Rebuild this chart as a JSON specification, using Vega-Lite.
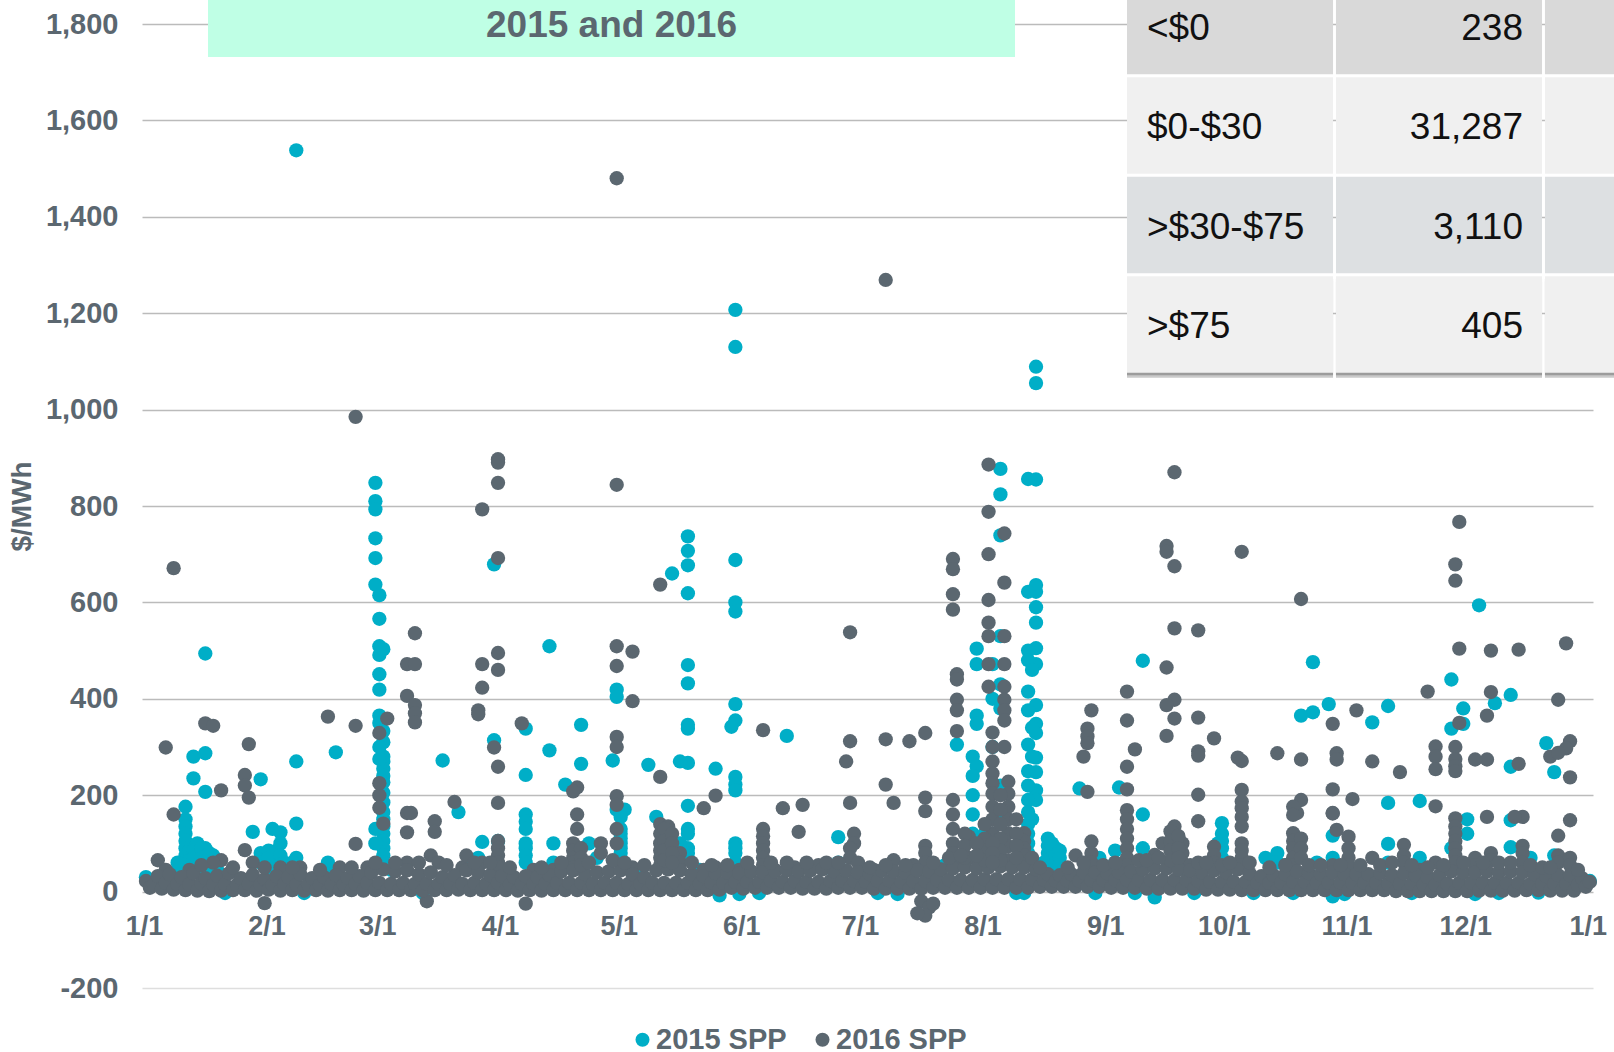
{"$schema":"https://vega.github.io/schema/vega-lite/v6.json","autosize":{"type":"none"},"padding":{"left":142,"top":24,"right":21,"bottom":64},"width":1451,"height":964,"background":"white","config":{"view":{"stroke":null},"font":"Liberation Sans"},
"datasets":{
"table":[{"row":"<$0","col":"Range","text":"<$0"},{"row":"<$0","col":"Hours","text":"238"},{"row":"<$0","col":"Share","text":""},{"row":"$0-$30","col":"Range","text":"$0-$30"},{"row":"$0-$30","col":"Hours","text":"31,287"},{"row":"$0-$30","col":"Share","text":""},{"row":">$30-$75","col":"Range","text":">$30-$75"},{"row":">$30-$75","col":"Hours","text":"3,110"},{"row":">$30-$75","col":"Share","text":""},{"row":">$75","col":"Range","text":">$75"},{"row":">$75","col":"Hours","text":"405"},{"row":">$75","col":"Share","text":""}],
"spp2015":[{"day":38,"price":1538},{"day":149,"price":1207},{"day":149,"price":1130},{"day":225,"price":1089},{"day":225,"price":1055},{"day":58,"price":848},{"day":58,"price":810},{"day":58,"price":793},{"day":58,"price":733},{"day":58,"price":692},{"day":58,"price":637},{"day":59,"price":615},{"day":59,"price":566},{"day":59,"price":509},{"day":59,"price":491},{"day":59,"price":451},{"day":59,"price":419},{"day":59,"price":365},{"day":60,"price":503},{"day":60,"price":333},{"day":60,"price":310},{"day":60,"price":280},{"day":60,"price":270},{"day":60,"price":255},{"day":60,"price":240},{"day":60,"price":227},{"day":60,"price":205},{"day":60,"price":185},{"day":60,"price":165},{"day":60,"price":150},{"day":60,"price":135},{"day":60,"price":120},{"day":60,"price":105},{"day":60,"price":90},{"day":60,"price":75},{"day":60,"price":60},{"day":59,"price":350},{"day":59,"price":300},{"day":59,"price":275},{"day":58,"price":130},{"day":58,"price":100},{"day":15,"price":494},{"day":12,"price":280},{"day":15,"price":287},{"day":12,"price":235},{"day":15,"price":207},{"day":10,"price":176},{"day":10,"price":150},{"day":10,"price":135},{"day":10,"price":120},{"day":10,"price":105},{"day":10,"price":90},{"day":10,"price":75},{"day":10,"price":60},{"day":13,"price":100},{"day":13,"price":85},{"day":13,"price":70},{"day":13,"price":55},{"day":15,"price":90},{"day":15,"price":75},{"day":15,"price":60},{"day":17,"price":75},{"day":17,"price":60},{"day":17,"price":45},{"day":8,"price":60},{"day":8,"price":45},{"day":11,"price":85},{"day":11,"price":65},{"day":29,"price":233},{"day":27,"price":124},{"day":32,"price":130},{"day":34,"price":123},{"day":34,"price":100},{"day":33,"price":85},{"day":33,"price":70},{"day":33,"price":55},{"day":29,"price":80},{"day":29,"price":60},{"day":38,"price":270},{"day":38,"price":141},{"day":38,"price":70},{"day":37,"price":60},{"day":48,"price":289},{"day":46,"price":60},{"day":46,"price":45},{"day":75,"price":272},{"day":79,"price":165},{"day":88,"price":679},{"day":88,"price":314},{"day":85,"price":103},{"day":89,"price":105},{"day":84,"price":70},{"day":82,"price":55},{"day":96,"price":338},{"day":96,"price":242},{"day":96,"price":160},{"day":96,"price":145},{"day":96,"price":130},{"day":96,"price":100},{"day":96,"price":90},{"day":96,"price":75},{"day":96,"price":60},{"day":102,"price":509},{"day":102,"price":293},{"day":103,"price":100},{"day":103,"price":60},{"day":106,"price":222},{"day":110,"price":346},{"day":110,"price":265},{"day":112,"price":100},{"day":114,"price":70},{"day":118,"price":272},{"day":119,"price":419},{"day":119,"price":404},{"day":119,"price":170},{"day":121,"price":170},{"day":120,"price":155},{"day":120,"price":130},{"day":120,"price":120},{"day":120,"price":110},{"day":120,"price":100},{"day":120,"price":90},{"day":120,"price":80},{"day":120,"price":60},{"day":127,"price":263},{"day":129,"price":155},{"day":133,"price":660},{"day":137,"price":737},{"day":137,"price":707},{"day":137,"price":677},{"day":137,"price":619},{"day":137,"price":470},{"day":137,"price":432},{"day":137,"price":346},{"day":137,"price":338},{"day":137,"price":267},{"day":137,"price":178},{"day":137,"price":130},{"day":137,"price":120},{"day":137,"price":90},{"day":137,"price":80},{"day":135,"price":270},{"day":135,"price":100},{"day":144,"price":255},{"day":149,"price":688},{"day":149,"price":600},{"day":149,"price":581},{"day":149,"price":389},{"day":149,"price":355},{"day":149,"price":238},{"day":149,"price":222},{"day":149,"price":210},{"day":149,"price":100},{"day":149,"price":90},{"day":149,"price":80},{"day":149,"price":60},{"day":148,"price":342},{"day":162,"price":323},{"day":175,"price":113},{"day":175,"price":60},{"day":210,"price":504},{"day":210,"price":472},{"day":210,"price":365},{"day":210,"price":348},{"day":210,"price":260},{"day":216,"price":877},{"day":216,"price":824},{"day":216,"price":739},{"day":216,"price":530},{"day":205,"price":305},{"day":209,"price":280},{"day":209,"price":240},{"day":209,"price":200},{"day":209,"price":160},{"day":209,"price":120},{"day":212,"price":120},{"day":212,"price":100},{"day":212,"price":80},{"day":214,"price":472},{"day":214,"price":400},{"day":214,"price":300},{"day":216,"price":430},{"day":216,"price":380},{"day":216,"price":220},{"day":216,"price":150},{"day":223,"price":856},{"day":225,"price":855},{"day":225,"price":636},{"day":225,"price":622},{"day":225,"price":590},{"day":225,"price":558},{"day":225,"price":505},{"day":225,"price":472},{"day":225,"price":387},{"day":225,"price":348},{"day":225,"price":329},{"day":225,"price":278},{"day":225,"price":248},{"day":225,"price":210},{"day":225,"price":190},{"day":223,"price":622},{"day":223,"price":500},{"day":223,"price":480},{"day":223,"price":415},{"day":223,"price":376},{"day":223,"price":305},{"day":223,"price":250},{"day":223,"price":220},{"day":223,"price":190},{"day":223,"price":165},{"day":223,"price":140},{"day":223,"price":120},{"day":223,"price":100},{"day":223,"price":80},{"day":223,"price":60},{"day":224,"price":460},{"day":224,"price":340},{"day":224,"price":280},{"day":224,"price":150},{"day":228,"price":110},{"day":228,"price":95},{"day":228,"price":80},{"day":228,"price":60},{"day":229,"price":100},{"day":229,"price":85},{"day":229,"price":70},{"day":229,"price":55},{"day":236,"price":214},{"day":252,"price":479},{"day":252,"price":160},{"day":252,"price":90},{"day":252,"price":60},{"day":246,"price":216},{"day":241,"price":70},{"day":245,"price":85},{"day":245,"price":60},{"day":272,"price":142},{"day":272,"price":120},{"day":272,"price":105},{"day":272,"price":90},{"day":272,"price":70},{"day":271,"price":100},{"day":286,"price":80},{"day":286,"price":60},{"day":283,"price":70},{"day":296,"price":60},{"day":295,"price":476},{"day":295,"price":372},{"day":292,"price":365},{"day":299,"price":389},{"day":300,"price":116},{"day":300,"price":70},{"day":310,"price":351},{"day":314,"price":385},{"day":314,"price":184},{"day":314,"price":99},{"day":314,"price":60},{"day":322,"price":188},{"day":322,"price":70},{"day":330,"price":440},{"day":330,"price":338},{"day":330,"price":90},{"day":333,"price":380},{"day":333,"price":348},{"day":334,"price":150},{"day":334,"price":120},{"day":337,"price":594},{"day":341,"price":391},{"day":345,"price":408},{"day":345,"price":259},{"day":345,"price":148},{"day":345,"price":92},{"day":350,"price":70},{"day":354,"price":308},{"day":356,"price":248},{"day":356,"price":75},{"day":145,"price":-8},{"day":255,"price":-12},{"day":300,"price":-10},{"day":0,"price":30},{"day":20,"price":-3},{"day":40,"price":-3},{"day":62,"price":45},{"day":70,"price":-3},{"day":90,"price":45},{"day":100,"price":45},{"day":125,"price":45},{"day":140,"price":45},{"day":150,"price":-5},{"day":155,"price":-3},{"day":172,"price":50},{"day":185,"price":-3},{"day":190,"price":-5},{"day":202,"price":55},{"day":220,"price":-3},{"day":222,"price":-3},{"day":232,"price":50},{"day":240,"price":-3},{"day":250,"price":-3},{"day":265,"price":-3},{"day":280,"price":-3},{"day":288,"price":55},{"day":290,"price":-3},{"day":303,"price":-5},{"day":320,"price":-3},{"day":336,"price":-5},{"day":342,"price":-3},{"day":352,"price":-2},{"day":365,"price":22},{"day":12,"price":85},{"day":12,"price":70},{"day":14,"price":90},{"day":14,"price":70},{"day":14,"price":50},{"day":16,"price":80},{"day":16,"price":60},{"day":18,"price":60},{"day":18,"price":45},{"day":31,"price":85},{"day":31,"price":70},{"day":31,"price":50},{"day":32,"price":60},{"day":34,"price":75},{"day":34,"price":55},{"day":35,"price":60},{"day":227,"price":60},{"day":230,"price":90},{"day":230,"price":75},{"day":230,"price":60},{"day":231,"price":85},{"day":231,"price":70},{"day":231,"price":55}],
"spp2016":[{"day":7,"price":671},{"day":5,"price":299},{"day":7,"price":160},{"day":15,"price":349},{"day":17,"price":344},{"day":19,"price":210},{"day":26,"price":306},{"day":25,"price":242},{"day":25,"price":220},{"day":26,"price":195},{"day":25,"price":86},{"day":46,"price":363},{"day":53,"price":344},{"day":53,"price":985},{"day":53,"price":99},{"day":119,"price":1480},{"day":119,"price":844},{"day":119,"price":509},{"day":119,"price":468},{"day":119,"price":321},{"day":119,"price":300},{"day":119,"price":198},{"day":119,"price":180},{"day":119,"price":130},{"day":119,"price":100},{"day":123,"price":498},{"day":123,"price":395},{"day":187,"price":1269},{"day":178,"price":538},{"day":178,"price":312},{"day":178,"price":184},{"day":177,"price":270},{"day":187,"price":316},{"day":193,"price":312},{"day":197,"price":329},{"day":187,"price":222},{"day":189,"price":184},{"day":197,"price":195},{"day":197,"price":167},{"day":197,"price":95},{"day":197,"price":80},{"day":197,"price":60},{"day":213,"price":886},{"day":213,"price":788},{"day":213,"price":700},{"day":213,"price":605},{"day":213,"price":558},{"day":213,"price":530},{"day":213,"price":472},{"day":213,"price":425},{"day":217,"price":743},{"day":217,"price":641},{"day":217,"price":530},{"day":217,"price":472},{"day":217,"price":425},{"day":217,"price":398},{"day":217,"price":376},{"day":217,"price":355},{"day":217,"price":300},{"day":204,"price":690},{"day":204,"price":669},{"day":204,"price":617},{"day":204,"price":585},{"day":205,"price":451},{"day":205,"price":440},{"day":205,"price":398},{"day":205,"price":376},{"day":205,"price":333},{"day":204,"price":190},{"day":204,"price":130},{"day":204,"price":100},{"day":204,"price":80},{"day":204,"price":60},{"day":214,"price":330},{"day":214,"price":300},{"day":214,"price":270},{"day":214,"price":245},{"day":214,"price":225},{"day":214,"price":203},{"day":214,"price":176},{"day":214,"price":150},{"day":214,"price":121},{"day":218,"price":228},{"day":218,"price":203},{"day":218,"price":176},{"day":218,"price":150},{"day":218,"price":121},{"day":218,"price":94},{"day":218,"price":65},{"day":59,"price":329},{"day":61,"price":359},{"day":59,"price":200},{"day":59,"price":225},{"day":59,"price":174},{"day":60,"price":141},{"day":66,"price":472},{"day":68,"price":472},{"day":68,"price":536},{"day":66,"price":406},{"day":68,"price":387},{"day":68,"price":370},{"day":68,"price":351},{"day":66,"price":163},{"day":67,"price":163},{"day":66,"price":123},{"day":66,"price":60},{"day":73,"price":146},{"day":73,"price":124},{"day":72,"price":75},{"day":78,"price":186},{"day":85,"price":793},{"day":85,"price":472},{"day":85,"price":423},{"day":84,"price":376},{"day":84,"price":368},{"day":89,"price":897},{"day":89,"price":890},{"day":89,"price":848},{"day":89,"price":692},{"day":89,"price":495},{"day":89,"price":460},{"day":89,"price":259},{"day":89,"price":184},{"day":88,"price":299},{"day":89,"price":105},{"day":89,"price":90},{"day":89,"price":75},{"day":89,"price":60},{"day":89,"price":50},{"day":95,"price":349},{"day":109,"price":216},{"day":108,"price":208},{"day":109,"price":160},{"day":109,"price":130},{"day":108,"price":100},{"day":108,"price":85},{"day":108,"price":70},{"day":108,"price":60},{"day":108,"price":50},{"day":130,"price":637},{"day":130,"price":238},{"day":141,"price":173},{"day":144,"price":199},{"day":156,"price":335},{"day":156,"price":130},{"day":156,"price":115},{"day":156,"price":100},{"day":156,"price":85},{"day":156,"price":70},{"day":156,"price":55},{"day":161,"price":173},{"day":165,"price":124},{"day":166,"price":180},{"day":239,"price":376},{"day":238,"price":338},{"day":238,"price":322},{"day":238,"price":308},{"day":237,"price":280},{"day":238,"price":207},{"day":248,"price":415},{"day":248,"price":355},{"day":248,"price":259},{"day":248,"price":212},{"day":248,"price":169},{"day":248,"price":150},{"day":248,"price":130},{"day":248,"price":110},{"day":248,"price":90},{"day":248,"price":70},{"day":248,"price":55},{"day":250,"price":295},{"day":258,"price":323},{"day":258,"price":717},{"day":258,"price":705},{"day":260,"price":870},{"day":260,"price":675},{"day":260,"price":398},{"day":260,"price":359},{"day":258,"price":465},{"day":258,"price":387},{"day":260,"price":546},{"day":266,"price":542},{"day":266,"price":361},{"day":266,"price":291},{"day":266,"price":282},{"day":266,"price":201},{"day":266,"price":146},{"day":270,"price":318},{"day":277,"price":705},{"day":277,"price":211},{"day":277,"price":187},{"day":277,"price":173},{"day":277,"price":155},{"day":277,"price":135},{"day":277,"price":100},{"day":277,"price":85},{"day":277,"price":70},{"day":277,"price":55},{"day":276,"price":278},{"day":277,"price":271},{"day":286,"price":287},{"day":292,"price":607},{"day":292,"price":274},{"day":292,"price":190},{"day":291,"price":163},{"day":300,"price":348},{"day":300,"price":212},{"day":300,"price":163},{"day":301,"price":287},{"day":301,"price":274},{"day":305,"price":192},{"day":306,"price":376},{"day":310,"price":270},{"day":317,"price":248},{"day":324,"price":415},{"day":326,"price":301},{"day":326,"price":280},{"day":326,"price":254},{"day":326,"price":177},{"day":332,"price":767},{"day":332,"price":504},{"day":331,"price":679},{"day":331,"price":645},{"day":331,"price":300},{"day":331,"price":275},{"day":331,"price":260},{"day":331,"price":250},{"day":331,"price":152},{"day":331,"price":135},{"day":331,"price":120},{"day":331,"price":105},{"day":331,"price":90},{"day":331,"price":75},{"day":331,"price":60},{"day":332,"price":350},{"day":340,"price":500},{"day":340,"price":414},{"day":340,"price":80},{"day":340,"price":65},{"day":339,"price":365},{"day":339,"price":274},{"day":339,"price":155},{"day":336,"price":274},{"day":336,"price":70},{"day":336,"price":55},{"day":347,"price":502},{"day":347,"price":265},{"day":348,"price":155},{"day":348,"price":95},{"day":348,"price":80},{"day":348,"price":60},{"day":346,"price":155},{"day":359,"price":515},{"day":357,"price":398},{"day":357,"price":116},{"day":357,"price":75},{"day":357,"price":60},{"day":360,"price":312},{"day":360,"price":237},{"day":360,"price":148},{"day":360,"price":70},{"day":360,"price":55},{"day":359,"price":297},{"day":355,"price":280},{"day":357,"price":288},{"day":196,"price":-20},{"day":198,"price":-33},{"day":197,"price":-50},{"day":195,"price":-45},{"day":199,"price":-25},{"day":30,"price":-24},{"day":71,"price":-20},{"day":96,"price":-25},{"day":3,"price":65},{"day":5,"price":45},{"day":11,"price":45},{"day":19,"price":65},{"day":17,"price":60},{"day":27,"price":60},{"day":34,"price":50},{"day":39,"price":50},{"day":49,"price":50},{"day":56,"price":50},{"day":74,"price":60},{"day":80,"price":50},{"day":81,"price":75},{"day":85,"price":60},{"day":98,"price":45},{"day":103,"price":45},{"day":115,"price":100},{"day":115,"price":80},{"day":123,"price":50},{"day":130,"price":140},{"day":130,"price":120},{"day":130,"price":100},{"day":130,"price":85},{"day":130,"price":70},{"day":130,"price":55},{"day":132,"price":135},{"day":132,"price":110},{"day":132,"price":90},{"day":132,"price":70},{"day":135,"price":80},{"day":135,"price":60},{"day":141,"price":45},{"day":144,"price":50},{"day":150,"price":45},{"day":159,"price":45},{"day":164,"price":50},{"day":170,"price":55},{"day":179,"price":120},{"day":179,"price":100},{"day":178,"price":90},{"day":178,"price":70},{"day":180,"price":60},{"day":184,"price":45},{"day":189,"price":65},{"day":194,"price":55},{"day":201,"price":45},{"day":208,"price":114},{"day":208,"price":70},{"day":222,"price":121},{"day":222,"price":105},{"day":222,"price":90},{"day":222,"price":75},{"day":222,"price":60},{"day":235,"price":75},{"day":239,"price":104},{"day":239,"price":80},{"day":239,"price":60},{"day":255,"price":76},{"day":257,"price":100},{"day":260,"price":135},{"day":260,"price":120},{"day":260,"price":110},{"day":260,"price":95},{"day":260,"price":80},{"day":260,"price":60},{"day":262,"price":100},{"day":262,"price":80},{"day":262,"price":60},{"day":264,"price":55},{"day":270,"price":93},{"day":270,"price":75},{"day":270,"price":60},{"day":290,"price":176},{"day":290,"price":159},{"day":290,"price":121},{"day":290,"price":105},{"day":290,"price":90},{"day":290,"price":70},{"day":290,"price":55},{"day":292,"price":110},{"day":292,"price":90},{"day":292,"price":70},{"day":300,"price":55},{"day":300,"price":162},{"day":301,"price":128},{"day":304,"price":114},{"day":304,"price":90},{"day":304,"price":70},{"day":304,"price":55},{"day":310,"price":70},{"day":318,"price":97},{"day":318,"price":75},{"day":318,"price":60},{"day":322,"price":45},{"day":326,"price":60},
{"day":0,"price":22},{"day":1,"price":8},{"day":2,"price":14},{"day":3,"price":32},{"day":4,"price":6},{"day":5,"price":18},{"day":6,"price":36},{"day":7,"price":4},{"day":8,"price":16},{"day":9,"price":30},{"day":10,"price":3},{"day":11,"price":15},{"day":12,"price":38},{"day":13,"price":2},{"day":14,"price":17},{"day":15,"price":28},{"day":16,"price":1},{"day":17,"price":14},{"day":18,"price":33},{"day":19,"price":2},{"day":20,"price":15},{"day":21,"price":38},{"day":22,"price":3},{"day":23,"price":14},{"day":24,"price":28},{"day":25,"price":3},{"day":26,"price":16},{"day":27,"price":35},{"day":28,"price":2},{"day":29,"price":15},{"day":30,"price":26},{"day":31,"price":4},{"day":32,"price":14},{"day":33,"price":32},{"day":34,"price":2},{"day":35,"price":16},{"day":36,"price":30},{"day":37,"price":3},{"day":38,"price":14},{"day":39,"price":36},{"day":40,"price":2},{"day":41,"price":15},{"day":42,"price":28},{"day":43,"price":3},{"day":44,"price":14},{"day":45,"price":30},{"day":46,"price":2},{"day":47,"price":15},{"day":48,"price":34},{"day":49,"price":3},{"day":50,"price":14},{"day":51,"price":28},{"day":52,"price":3},{"day":53,"price":16},{"day":54,"price":32},{"day":55,"price":2},{"day":56,"price":18},{"day":57,"price":40},{"day":58,"price":3},{"day":59,"price":18},{"day":60,"price":46},{"day":61,"price":3},{"day":62,"price":16},{"day":63,"price":42},{"day":64,"price":3},{"day":65,"price":18},{"day":66,"price":44},{"day":67,"price":3},{"day":68,"price":16},{"day":69,"price":36},{"day":70,"price":2},{"day":71,"price":16},{"day":72,"price":40},{"day":73,"price":3},{"day":74,"price":16},{"day":75,"price":30},{"day":76,"price":3},{"day":77,"price":16},{"day":78,"price":34},{"day":79,"price":4},{"day":80,"price":16},{"day":81,"price":44},{"day":82,"price":3},{"day":83,"price":18},{"day":84,"price":40},{"day":85,"price":3},{"day":86,"price":16},{"day":87,"price":34},{"day":88,"price":3},{"day":89,"price":18},{"day":90,"price":32},{"day":91,"price":3},{"day":92,"price":14},{"day":93,"price":30},{"day":94,"price":2},{"day":95,"price":16},{"day":96,"price":32},{"day":97,"price":3},{"day":98,"price":16},{"day":99,"price":30},{"day":100,"price":2},{"day":101,"price":16},{"day":102,"price":34},{"day":103,"price":3},{"day":104,"price":18},{"day":105,"price":42},{"day":106,"price":3},{"day":107,"price":18},{"day":108,"price":44},{"day":109,"price":3},{"day":110,"price":18},{"day":111,"price":36},{"day":112,"price":3},{"day":113,"price":16},{"day":114,"price":40},{"day":115,"price":3},{"day":116,"price":18},{"day":117,"price":42},{"day":118,"price":3},{"day":119,"price":18},{"day":120,"price":44},{"day":121,"price":3},{"day":122,"price":16},{"day":123,"price":36},{"day":124,"price":3},{"day":125,"price":16},{"day":126,"price":30},{"day":127,"price":3},{"day":128,"price":18},{"day":129,"price":44},{"day":130,"price":3},{"day":131,"price":18},{"day":132,"price":46},{"day":133,"price":3},{"day":134,"price":18},{"day":135,"price":44},{"day":136,"price":3},{"day":137,"price":18},{"day":138,"price":36},{"day":139,"price":3},{"day":140,"price":16},{"day":141,"price":32},{"day":142,"price":3},{"day":143,"price":18},{"day":144,"price":38},{"day":145,"price":4},{"day":146,"price":18},{"day":147,"price":40},{"day":148,"price":8},{"day":149,"price":20},{"day":150,"price":38},{"day":151,"price":6},{"day":152,"price":20},{"day":153,"price":42},{"day":154,"price":8},{"day":155,"price":20},{"day":156,"price":40},{"day":157,"price":8},{"day":158,"price":22},{"day":159,"price":42},{"day":160,"price":8},{"day":161,"price":20},{"day":162,"price":44},{"day":163,"price":8},{"day":164,"price":22},{"day":165,"price":42},{"day":166,"price":6},{"day":167,"price":20},{"day":168,"price":44},{"day":169,"price":6},{"day":170,"price":20},{"day":171,"price":46},{"day":172,"price":6},{"day":173,"price":22},{"day":174,"price":42},{"day":175,"price":8},{"day":176,"price":22},{"day":177,"price":44},{"day":178,"price":8},{"day":179,"price":22},{"day":180,"price":40},{"day":181,"price":8},{"day":182,"price":20},{"day":183,"price":36},{"day":184,"price":6},{"day":185,"price":22},{"day":186,"price":44},{"day":187,"price":6},{"day":188,"price":22},{"day":189,"price":42},{"day":190,"price":6},{"day":191,"price":20},{"day":192,"price":40},{"day":193,"price":6},{"day":194,"price":22},{"day":195,"price":44},{"day":196,"price":6},{"day":197,"price":22},{"day":198,"price":42},{"day":199,"price":8},{"day":200,"price":24},{"day":201,"price":46},{"day":202,"price":8},{"day":203,"price":24},{"day":204,"price":48},{"day":205,"price":8},{"day":206,"price":24},{"day":207,"price":50},{"day":208,"price":8},{"day":209,"price":24},{"day":210,"price":48},{"day":211,"price":8},{"day":212,"price":26},{"day":213,"price":50},{"day":214,"price":8},{"day":215,"price":26},{"day":216,"price":52},{"day":217,"price":8},{"day":218,"price":26},{"day":219,"price":50},{"day":220,"price":8},{"day":221,"price":26},{"day":222,"price":50},{"day":223,"price":8},{"day":224,"price":26},{"day":225,"price":46},{"day":226,"price":10},{"day":227,"price":24},{"day":228,"price":36},{"day":229,"price":10},{"day":230,"price":22},{"day":231,"price":34},{"day":232,"price":10},{"day":233,"price":22},{"day":234,"price":36},{"day":235,"price":10},{"day":236,"price":22},{"day":237,"price":40},{"day":238,"price":10},{"day":239,"price":24},{"day":240,"price":40},{"day":241,"price":10},{"day":242,"price":24},{"day":243,"price":38},{"day":244,"price":8},{"day":245,"price":24},{"day":246,"price":40},{"day":247,"price":8},{"day":248,"price":24},{"day":249,"price":42},{"day":250,"price":8},{"day":251,"price":24},{"day":252,"price":46},{"day":253,"price":6},{"day":254,"price":24},{"day":255,"price":48},{"day":256,"price":6},{"day":257,"price":24},{"day":258,"price":48},{"day":259,"price":6},{"day":260,"price":24},{"day":261,"price":46},{"day":262,"price":6},{"day":263,"price":24},{"day":264,"price":44},{"day":265,"price":6},{"day":266,"price":22},{"day":267,"price":40},{"day":268,"price":4},{"day":269,"price":20},{"day":270,"price":44},{"day":271,"price":4},{"day":272,"price":20},{"day":273,"price":40},{"day":274,"price":4},{"day":275,"price":20},{"day":276,"price":46},{"day":277,"price":3},{"day":278,"price":20},{"day":279,"price":38},{"day":280,"price":3},{"day":281,"price":18},{"day":282,"price":32},{"day":283,"price":3},{"day":284,"price":18},{"day":285,"price":34},{"day":286,"price":3},{"day":287,"price":18},{"day":288,"price":36},{"day":289,"price":3},{"day":290,"price":20},{"day":291,"price":42},{"day":292,"price":3},{"day":293,"price":20},{"day":294,"price":38},{"day":295,"price":3},{"day":296,"price":18},{"day":297,"price":36},{"day":298,"price":3},{"day":299,"price":18},{"day":300,"price":40},{"day":301,"price":3},{"day":302,"price":18},{"day":303,"price":36},{"day":304,"price":3},{"day":305,"price":18},{"day":306,"price":36},{"day":307,"price":3},{"day":308,"price":18},{"day":309,"price":36},{"day":310,"price":3},{"day":311,"price":18},{"day":312,"price":38},{"day":313,"price":3},{"day":314,"price":16},{"day":315,"price":34},{"day":316,"price":1},{"day":317,"price":16},{"day":318,"price":38},{"day":319,"price":1},{"day":320,"price":16},{"day":321,"price":34},{"day":322,"price":1},{"day":323,"price":14},{"day":324,"price":30},{"day":325,"price":1},{"day":326,"price":14},{"day":327,"price":34},{"day":328,"price":1},{"day":329,"price":16},{"day":330,"price":42},{"day":331,"price":1},{"day":332,"price":18},{"day":333,"price":40},{"day":334,"price":1},{"day":335,"price":18},{"day":336,"price":40},{"day":337,"price":2},{"day":338,"price":18},{"day":339,"price":42},{"day":340,"price":2},{"day":341,"price":18},{"day":342,"price":40},{"day":343,"price":2},{"day":344,"price":18},{"day":345,"price":42},{"day":346,"price":2},{"day":347,"price":18},{"day":348,"price":40},{"day":349,"price":3},{"day":350,"price":16},{"day":351,"price":36},{"day":352,"price":3},{"day":353,"price":16},{"day":354,"price":32},{"day":355,"price":2},{"day":356,"price":16},{"day":357,"price":34},{"day":358,"price":2},{"day":359,"price":16},{"day":360,"price":34},{"day":361,"price":2},{"day":362,"price":14},{"day":363,"price":28},{"day":364,"price":10},{"day":365,"price":20},
{"day":216,"price":200},{"day":216,"price":170},{"day":216,"price":140},{"day":216,"price":110},{"day":216,"price":85},{"day":216,"price":65},{"day":212,"price":140},{"day":212,"price":110},{"day":212,"price":85},{"day":212,"price":65},{"day":220,"price":150},{"day":220,"price":120},{"day":220,"price":95},{"day":220,"price":70},{"day":207,"price":120},{"day":207,"price":95},{"day":207,"price":70},{"day":210,"price":100},{"day":210,"price":75},{"day":214,"price":100},{"day":214,"price":80},{"day":214,"price":60},{"day":204,"price":160},{"day":131,"price":130},{"day":131,"price":105},{"day":131,"price":85},{"day":131,"price":65},{"day":133,"price":120},{"day":133,"price":100},{"day":133,"price":80},{"day":133,"price":60},{"day":110,"price":90},{"day":110,"price":70},{"day":110,"price":55},{"day":259,"price":125},{"day":259,"price":105},{"day":259,"price":85},{"day":259,"price":65},{"day":261,"price":115},{"day":261,"price":90},{"day":261,"price":70},{"day":14,"price":55},{"day":22,"price":50},{"day":30,"price":50},{"day":37,"price":50},{"day":44,"price":45},{"day":52,"price":50},{"day":58,"price":60},{"day":63,"price":60},{"day":69,"price":60},{"day":76,"price":55},{"day":83,"price":60},{"day":87,"price":60},{"day":92,"price":50},{"day":100,"price":50},{"day":105,"price":60},{"day":112,"price":60},{"day":118,"price":65},{"day":121,"price":60},{"day":126,"price":55},{"day":138,"price":60},{"day":143,"price":55},{"day":147,"price":55},{"day":152,"price":60},{"day":158,"price":60},{"day":162,"price":60},{"day":167,"price":60},{"day":172,"price":60},{"day":175,"price":60},{"day":183,"price":50},{"day":187,"price":55},{"day":192,"price":55},{"day":199,"price":60},{"day":203,"price":70},{"day":206,"price":75},{"day":224,"price":70},{"day":226,"price":50},{"day":233,"price":50},{"day":237,"price":60},{"day":242,"price":55},{"day":245,"price":60},{"day":251,"price":65},{"day":253,"price":65},{"day":256,"price":70},{"day":266,"price":60},{"day":268,"price":60},{"day":272,"price":55},{"day":274,"price":60},{"day":279,"price":60},{"day":284,"price":50},{"day":288,"price":55},{"day":294,"price":55},{"day":297,"price":55},{"day":302,"price":55},{"day":307,"price":55},{"day":312,"price":55},{"day":315,"price":60},{"day":320,"price":55},{"day":324,"price":50},{"day":328,"price":55},{"day":333,"price":60},{"day":338,"price":60},{"day":342,"price":60},{"day":345,"price":60},{"day":350,"price":55},{"day":353,"price":50},{"day":355,"price":50},{"day":362,"price":45}]},
"layer":[
{"layer":[
{"data":{"name":"spp2015"},"mark":{"type":"circle","size":205,"opacity":1},"encoding":{"x":{"field":"day","type":"quantitative","title":null,"scale":{"domain":[-1,365.8],"nice":false,"zero":false},"axis":{"values":[0,31,59,90,120,151,181,212,243,273,304,334,365],"labelExpr":"timeFormat(datetime(2015,0,1+datum.value),'%-m/%-d')","labelOffset":-2,"grid":false,"domain":false,"ticks":false,"labelPadding":-75,"labelFontSize":27,"labelFontWeight":"bold","labelColor":"#5B6770","labelOverlap":false,"labelBound":false,"labelFlush":false}},"y":{"field":"price","type":"quantitative","title":"$/MWh","scale":{"domain":[-200,1800],"nice":false,"zero":false},"axis":{"values":[-200,0,200,400,600,800,1000,1200,1400,1600,1800],"labelExpr":"replace(format(datum.value,',.0f'),'−','-')","domain":false,"ticks":false,"grid":true,"gridColor":{"condition":{"test":"datum.value<0","value":"#DEDEDE"},"value":"#BBBBBB"},"gridWidth":1.5,"labelPadding":24,"labelFontSize":29,"labelFontWeight":"bold","labelColor":"#5B6770","labelBound":false,"labelOverlap":false,"titleFontSize":28,"titleFontWeight":"bold","titleColor":"#5B6770","titleX":-106,"titleY":482}},"color":{"datum":"2015 SPP","type":"nominal","scale":{"domain":["2015 SPP","2016 SPP"],"range":["#00AEC7","#5B6770"]},"legend":{"title":null,"orient":"none","direction":"horizontal","columns":2,"legendX":486,"legendY":1001,"symbolType":"circle","symbolSize":196,"symbolOpacity":1,"labelFontSize":29,"labelFontWeight":"bold","labelColor":"#5B6770","labelOffset":-1,"columnPadding":21}}}},
{"data":{"name":"spp2016"},"mark":{"type":"circle","size":205,"opacity":1},"encoding":{"x":{"field":"day","type":"quantitative"},"y":{"field":"price","type":"quantitative"},"color":{"datum":"2016 SPP","type":"nominal"}}}
]},
{"data":{"values":[{"label":"2015 and 2016"}]},"encoding":{"x":{"field":"label","type":"nominal","scale":{"range":[66,873],"paddingInner":0,"paddingOuter":0},"axis":null},"y":{"field":"label","type":"nominal","scale":{"range":[-33,33],"paddingInner":0,"paddingOuter":0},"axis":null}},"layer":[{"mark":{"type":"rect","color":"#BFFFE5"}},{"mark":{"type":"text","fontSize":37,"fontWeight":"bold","color":"#5B6770","baseline":"middle","align":"center","dy":2},"encoding":{"text":{"field":"label"}}}]},
{"data":{"name":"table"},"encoding":{"x":{"field":"col","type":"nominal","scale":{"domain":["Range","Hours","Share"],"range":[985,1609],"paddingInner":0.014,"paddingOuter":0},"axis":null},"y":{"field":"row","type":"nominal","scale":{"domain":["<$0","$0-$30",">$30-$75",">$75"],"range":[-46.3,348.7],"paddingInner":0.03,"paddingOuter":0},"axis":null}},"layer":[
{"transform":[{"filter":"datum.row === '>$75'"}],"mark":{"type":"rect","color":"#8A8A8A","opacity":0.45,"yOffset":5}},
{"transform":[{"filter":"datum.row === '>$75'"}],"mark":{"type":"rect","color":"#6E6E6E","opacity":0.5,"yOffset":2.5}},
{"mark":{"type":"rect"},"encoding":{"color":{"field":"row","type":"nominal","scale":{"domain":["<$0","$0-$30",">$30-$75",">$75"],"range":["#D9D9D9","#F0F0F0","#DDE0E2","#F0F0F0"]},"legend":null}}},
{"transform":[{"filter":"datum.col === 'Range'"}],"mark":{"type":"text","fontSize":37,"color":"#111111","align":"left","baseline":"middle","dx":20,"dy":3},"encoding":{"x":{"field":"col","type":"nominal","bandPosition":0},"text":{"field":"text"}}},
{"transform":[{"filter":"datum.col === 'Hours'"}],"mark":{"type":"text","fontSize":37,"color":"#111111","align":"right","baseline":"middle","dx":-19,"dy":3},"encoding":{"x":{"field":"col","type":"nominal","bandPosition":1},"text":{"field":"text"}}}
]}
],
"resolve":{"scale":{"x":"independent","y":"independent","color":"independent"}}}
